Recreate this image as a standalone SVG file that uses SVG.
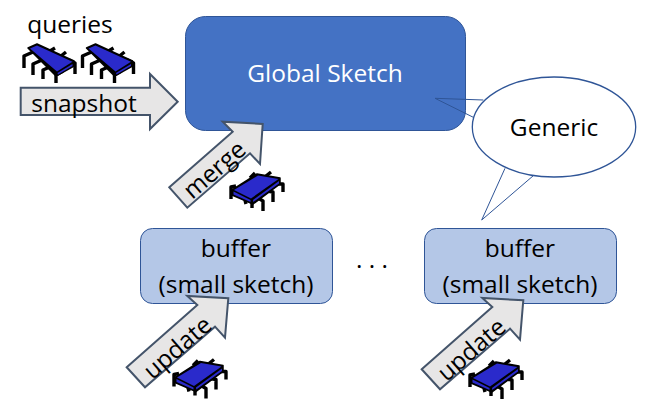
<svg xmlns="http://www.w3.org/2000/svg" width="649" height="415" viewBox="0 0 649 415">
<style>
text{font-family:"Open Sans","Noto Sans","Liberation Sans",sans-serif;font-size:24.500px;fill:#000;text-anchor:middle}
.arrow{fill:#e7e6e6;stroke:#44546a;stroke-width:2;stroke-linejoin:miter}
.buf{fill:#b4c7e7;stroke:#2f5597;stroke-width:1}
.leg{fill:none;stroke:#000;stroke-width:3.4;stroke-linejoin:round}
.tail{fill:none;stroke:#2f5597;stroke-width:1}
</style>
<defs>
<g id="chipA">
<path class="leg" d="M33 52L24 56V68M42 60L33 64V75M52 66L43 70V79M63 71L56 75V83M61 56L66 52M69 60L75 63V74M50 51L55 48" />
<path d="M28 48L37 44L74 61L74 66L56 76L54 74Z" fill="#000" stroke="#000" stroke-width="1.500" stroke-linejoin="round"/>
<path d="M30 48.500L37 45.500L72.500 61.700L57 71.500Z" fill="#2a2acb"/>
<path d="M57.500 73L72.500 64V66L58 74.500Z" fill="#2a2acb"/>
</g>
<g id="chipB">
<path class="leg" d="M236 186L231 187V199M250 178L255 173M266 176L271 172M245 200L246 204M252 200V208M258 198L263 201V211M267 191L273 192V202M276 184L283 184V192" />
<path d="M232 190L257 174L280 178L280 184L253 204L232 195Z" fill="#000" stroke="#000" stroke-width="1.500" stroke-linejoin="round"/>
<path d="M234 190L258 175.500L278.500 179L251 198.500Z" fill="#2a2acb"/>
<path d="M233.500 191.500L250.500 200V202L233.500 194.500ZM253 200L279 181V183.500L253.300 202Z" fill="#2a2acb"/>
</g>
<polygon id="upArrow" class="arrow" points="126.700,367.300 197.300,305 187.300,296 228.300,298.300 225,337.700 215,326.700 145,387.300"/>
</defs>

<g id="global-sketch">
<rect x="185.500" y="16.500" width="280" height="114" rx="20" fill="#4472c4" stroke="#2f5597"/>
<text x="325" y="82" style="fill:#fff">Global Sketch</text>
</g>

<g id="buffer-1">
<rect class="buf" x="140.500" y="228.500" width="192" height="75" rx="12"/>
<text x="236" y="257">buffer</text>
<text x="236" y="293">(small sketch)</text>
</g>
<g id="buffer-2">
<rect class="buf" x="424.500" y="228.500" width="192" height="75" rx="12"/>
<text x="520" y="257">buffer</text>
<text x="520" y="293">(small sketch)</text>
</g>
<text id="dots" x="372" y="268">. . .</text>

<g id="generic-callout">
<path class="tail" d="M483.300 100L435 98.300L473.300 117.300"/>
<path class="tail" d="M505 168.300L481.700 220L533.300 175.700"/>
<ellipse cx="554" cy="127" rx="81.700" ry="50" fill="#fff" stroke="#2f5597" stroke-width="1.300"/>
<text x="554" y="136">Generic</text>
</g>

<g id="queries">
<text x="70" y="33">queries</text>
<use href="#chipA"/>
<use href="#chipA" x="58.500"/>
</g>

<g id="connectors">
<g id="snapshot-arrow">
<polygon class="arrow" points="20.700,87.700 150,87.700 150,74 177.700,101.700 150,129 150,115 20.700,115"/>
<text x="84" y="112">snapshot</text>
</g>
<g id="merge-arrow">
<polygon class="arrow" points="169.300,187.300 232.700,131.700 222.700,121.700 262.700,124 260,164 250,153.300 187.300,207.700"/>
<text transform="translate(220 176) rotate(-41)">merge</text>
</g>
<g id="update-arrow-1">
<use href="#upArrow"/>
<text transform="translate(183 354) rotate(-41)">update</text>
</g>
<g id="update-arrow-2">
<use href="#upArrow" x="295" y="2"/>
<text transform="translate(477 356) rotate(-41)">update</text>
</g>
</g>

<g id="merge-worker"><use href="#chipB"/></g>
<g id="update-worker-1"><use href="#chipB" x="-57" y="187.500"/></g>
<g id="update-worker-2"><use href="#chipB" x="239" y="188"/></g>
</svg>
